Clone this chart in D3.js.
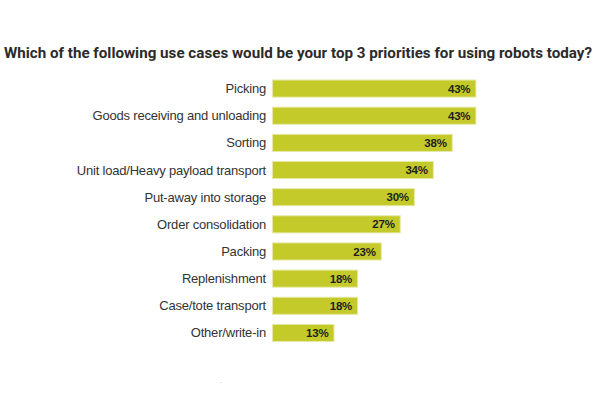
<!DOCTYPE html>
<html>
<head>
<meta charset="utf-8">
<script src="https://cdn.jsdelivr.net/npm/d3@7"></script>
<style>
  body { margin: 0; background: #fff; }
</style>
</head>
<body>
<div id="chart"></div>
<script>
// Data
const titleText = "Which of the following use cases would be your top 3 priorities for using robots today?";
const categories = [
    "Picking",
    "Goods receiving and unloading",
    "Sorting",
    "Unit load/Heavy payload transport",
    "Put-away into storage",
    "Order consolidation",
    "Packing",
    "Replenishment",
    "Case/tote transport",
    "Other/write-in"
];
const values = [43, 43, 38, 34, 30, 27, 23, 18, 18, 13];

function createBarChart(containerId) {
    const width = 600;
    const height = 400;

    const svg = d3.select("#" + containerId)
        .append("svg")
        .attr("width", width)
        .attr("height", height);

    // Title
    svg.append("text")
        .attr("x", 298)
        .attr("y", 58)
        .attr("text-anchor", "middle")
        .attr("textLength", 588)
        .attr("lengthAdjust", "spacingAndGlyphs")
        .style("font-family", "Roboto, 'Liberation Sans', sans-serif")
        .style("font-size", "15px")
        .style("font-weight", "bold")
        .style("fill", "#2b2b2b")
        .text(titleText);

    // Scales
    const x = d3.scaleLinear()
        .domain([0, 50])
        .range([272.5, 509]);

    const y = d3.scaleBand()
        .domain(categories)
        .range([75, 346.5])
        .paddingInner(0.37)
        .paddingOuter(0.185);

    const rows = svg.selectAll(".row")
        .data(categories.map((c, i) => ({ category: c, value: values[i] })))
        .enter()
        .append("g")
        .attr("class", "row");

    // Bars
    rows.append("rect")
        .attr("x", x(0))
        .attr("y", d => y(d.category))
        .attr("width", d => x(d.value) - x(0))
        .attr("height", y.bandwidth())
        .attr("fill", "#c5ca2b")
        .attr("stroke", "#e6e9a6")
        .attr("stroke-width", 1);

    // Category labels
    rows.append("text")
        .attr("x", x(0) - 6.5)
        .attr("y", d => y(d.category) + y.bandwidth() / 2)
        .attr("dy", "0.35em")
        .attr("text-anchor", "end")
        .style("font-family", "'Liberation Sans', Arial, sans-serif")
        .style("font-size", "13px")
        .style("letter-spacing", "-0.2px")
        .style("fill", "#333")
        .text(d => d.category);

    // Value labels inside bars
    rows.append("text")
        .attr("x", d => x(d.value) - 5.5)
        .attr("y", d => y(d.category) + y.bandwidth() / 2)
        .attr("dy", "0.36em")
        .attr("text-anchor", "end")
        .style("font-family", "'Liberation Sans', Arial, sans-serif")
        .style("font-size", "11.5px")
        .style("font-weight", "bold")
        .style("letter-spacing", "-0.2px")
        .style("fill", "#1e1e1e")
        .text(d => d.value + "%");

    // Small stray dot under the chart
    svg.append("text")
        .attr("x", 220)
        .attr("y", 383)
        .style("font-family", "'Liberation Sans', sans-serif")
        .style("font-size", "8px")
        .style("fill", "#aaa")
        .text(".");
}

createBarChart("chart");
</script>
</body>
</html>
